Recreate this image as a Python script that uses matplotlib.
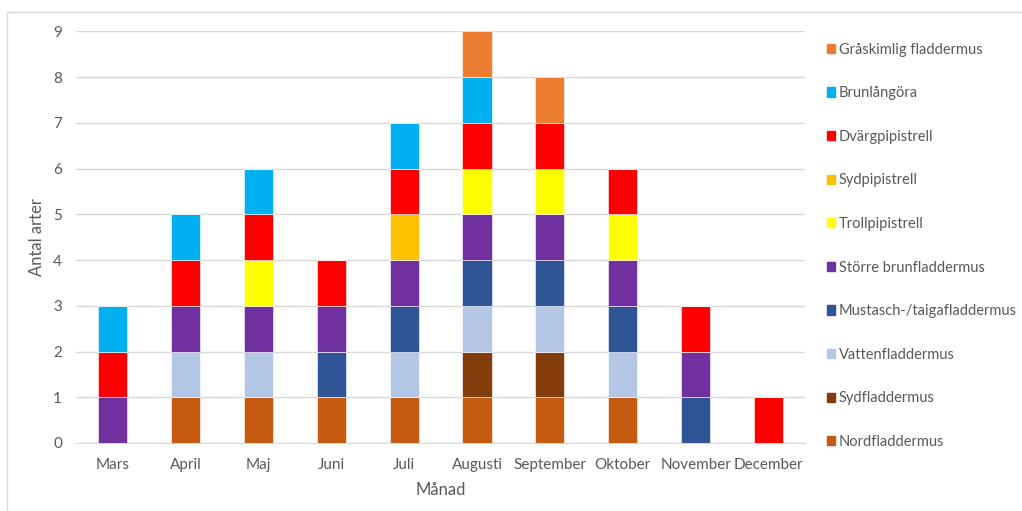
import matplotlib.pyplot as plt
import matplotlib.patches as mpatches
import numpy as np

plt.rcParams['font.family'] = ['Lato', 'DejaVu Sans']

manader = ['Mars', 'April', 'Maj', 'Juni', 'Juli', 'Augusti', 'September',
           'Oktober', 'November', 'December']

# förekomst per art och månad (1 = observerad), nerifrån och upp i staplarna
nordfladdermus = [0, 1, 1, 1, 1, 1, 1, 1, 0, 0]
sydfladdermus = [0, 0, 0, 0, 0, 1, 1, 0, 0, 0]
vattenfladdermus = [0, 1, 1, 0, 1, 1, 1, 1, 0, 0]
mustasch = [0, 0, 0, 1, 1, 1, 1, 1, 1, 0]
storre_brun = [1, 1, 1, 1, 1, 1, 1, 1, 1, 0]
trollpipistrell = [0, 0, 1, 0, 0, 1, 1, 1, 0, 0]
sydpipistrell = [0, 0, 0, 0, 1, 0, 0, 0, 0, 0]
dvargpipistrell = [1, 1, 1, 1, 1, 1, 1, 1, 1, 1]
brunlangora = [1, 1, 1, 0, 1, 1, 0, 0, 0, 0]
graskimlig = [0, 0, 0, 0, 0, 1, 1, 0, 0, 0]

arter = ['Nordfladdermus', 'Sydfladdermus', 'Vattenfladdermus',
         'Mustasch-/taigafladdermus', 'Större brunfladdermus', 'Trollpipistrell',
         'Sydpipistrell', 'Dvärgpipistrell', 'Brunlångöra', 'Gråskimlig fladdermus']
serier = [nordfladdermus, sydfladdermus, vattenfladdermus, mustasch, storre_brun,
          trollpipistrell, sydpipistrell, dvargpipistrell, brunlangora, graskimlig]
farger = ['#C55A11', '#843C0C', '#B4C7E7', '#2F5597', '#7030A0', '#FFFF00',
          '#FFC000', '#FF0000', '#00B0F0', '#ED7D31']

fig = plt.figure(figsize=(10.22, 5.11), dpi=100)
ax = fig.add_axes([0.0744, 0.1331, 0.7133, 0.8053])

x = np.arange(len(manader))
botten = np.zeros(len(manader))
for namn, varden, farg in zip(arter, serier, farger):
    ax.bar(x, varden, width=0.4, bottom=botten, color=farg, label=namn,
           edgecolor='white', linewidth=0.4, zorder=3)
    botten += np.array(varden)

ax.set_xlim(-0.5, len(manader) - 0.5)
ax.set_ylim(0, 9)
ax.set_yticks(range(0, 10))
ax.set_xticks(x)
ax.set_xticklabels(manader)
ax.grid(axis='y', color='#D9D9D9', linewidth=1, zorder=0)
for s in ['top', 'right', 'left']:
    ax.spines[s].set_visible(False)
ax.spines['bottom'].set_color('#D9D9D9')
ax.tick_params(length=0, labelsize=11, colors='#595959', pad=10)
ax.tick_params(axis='x', pad=11)
ax.set_ylabel('Antal arter', fontsize=12, color='#595959', labelpad=6)
ax.set_xlabel('Månad', fontsize=12, color='#595959', labelpad=7)

handles = [mpatches.Patch(color=f, label=a) for a, f in zip(arter, farger)][::-1]
fig.legend(handles=handles, loc='center left', bbox_to_anchor=(0.796, 0.519),
           frameon=False, fontsize=10.5, labelcolor='#595959', handlelength=0.6,
           handleheight=0.6, handletextpad=0.25, labelspacing=2.03)

# ram runt diagrammet
fig.patches.append(mpatches.Rectangle((0.007, -0.05), 1.1, 1.0265,
                                      transform=fig.transFigure, fill=False,
                                      edgecolor='#D9D9D9', linewidth=1))

fig.savefig('out.png', dpi=100)
